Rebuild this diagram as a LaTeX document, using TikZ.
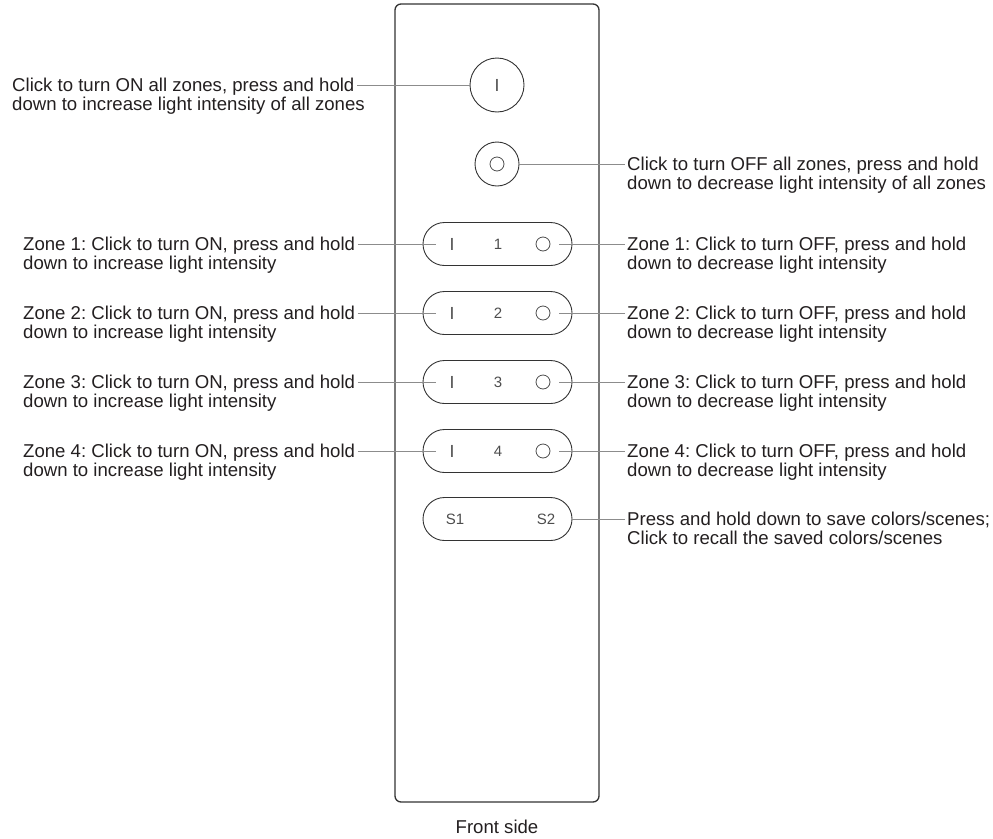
\documentclass[tikz,border=0pt]{standalone}
\usepackage{fontspec}
\setmainfont{Liberation Sans}
\usepackage{tikz}
\usetikzlibrary{shapes.misc}
\frenchspacing

\definecolor{bodyc}{HTML}{333333}
\definecolor{leadc}{HTML}{8C8C8C}
\definecolor{txtc}{HTML}{231F20}
\definecolor{keyc}{HTML}{4D4D4D}

\tikzset{
  remote/.style={draw=bodyc, line width=1.3pt, rounded corners=6pt},
  roundkey/.style={circle, draw=bodyc, line width=0.9pt, inner sep=0pt},
  pillkey/.style={rounded rectangle, draw=bodyc, line width=0.9pt, minimum width=149pt, minimum height=43pt, inner sep=0pt},
  onmark/.style={text=keyc, font=\fontsize{17.5}{17.5}\selectfont, inner sep=0pt, minimum width=32pt},
  offmark/.style={circle, draw=keyc, line width=0.8pt, minimum size=14pt, inner sep=0pt, outer sep=9pt},
  keytext/.style={text=keyc, font=\fontsize{15}{15}\selectfont, inner sep=0pt},
  note/.style={anchor=west, text=txtc, font=\fontsize{18.6}{20}\selectfont, inner ysep=0pt, inner xsep=2.5pt, text height=13pt, text depth=0pt},
  leader/.style={draw=leadc, line width=1pt},
}

\begin{document}
\begin{tikzpicture}[x=1pt, y=-1pt]
\useasboundingbox (0,0) rectangle (993,838);
% body of the remote
\draw [remote] (395,4) rectangle (599,802);
% all zones on / off
\node (allon) [roundkey, minimum size=54pt] at (497,85) {};
\node (allonI) [onmark] at (497,85) {I};
\node (alloff) [roundkey, minimum size=44pt] at (497,164) {};
\node (alloffO) [offmark] at (497,164) {};
\node (ta) [note] at (9.5,85) {Click to turn ON all zones, press and hold};
\node (tb) [note] at (9.5,104.3) {down to increase light intensity of all zones};
\node (ra) [note] at (624.5,164) {Click to turn OFF all zones, press and hold};
\node (rb) [note] at (624.5,183.3) {down to decrease light intensity of all zones};
\draw [leader] (ta.east) -- (allon.west);
\draw [leader] (alloff.east) -- (ra.west);
% zone keys
\foreach \z/\y in {1/244, 2/313, 3/382, 4/451} {
  \node (pill\z) [pillkey] at (497.5,\y) {};
  \node (on\z) [onmark] at (452,\y) {I};
  \node (num\z) [keytext] at (498,\y) {\z};
  \node (off\z) [offmark] at (543,\y) {};
  \node (zla\z) [note] at (20.5,\y) {Zone \z: Click to turn ON, press and hold};
  \node (zlb\z) [note] at (20.5,\y+19.3) {down to increase light intensity};
  \node (zra\z) [note] at (624.5,\y) {Zone \z: Click to turn OFF, press and hold};
  \node (zrb\z) [note] at (624.5,\y+19.3) {down to decrease light intensity};
  \draw [leader] (zla\z.east) -- (on\z.west);
  \draw [leader] (off\z.east) -- (zra\z.west);
}
% scene key
\node (pillS) [pillkey] at (497.5,519) {};
\node (s1) [keytext] at (455,519) {S1};
\node (s2) [keytext] at (546,519) {S2};
\node (sa) [note] at (624.5,519) {Press and hold down to save colors/scenes;};
\node (sb) [note] at (624.5,538.3) {Click to recall the saved colors/scenes};
\draw [leader] (pillS.east) -- (sa.west);
% caption
\node (front) [note, anchor=center] at (497,826.5) {Front side};
\end{tikzpicture}
\end{document}
